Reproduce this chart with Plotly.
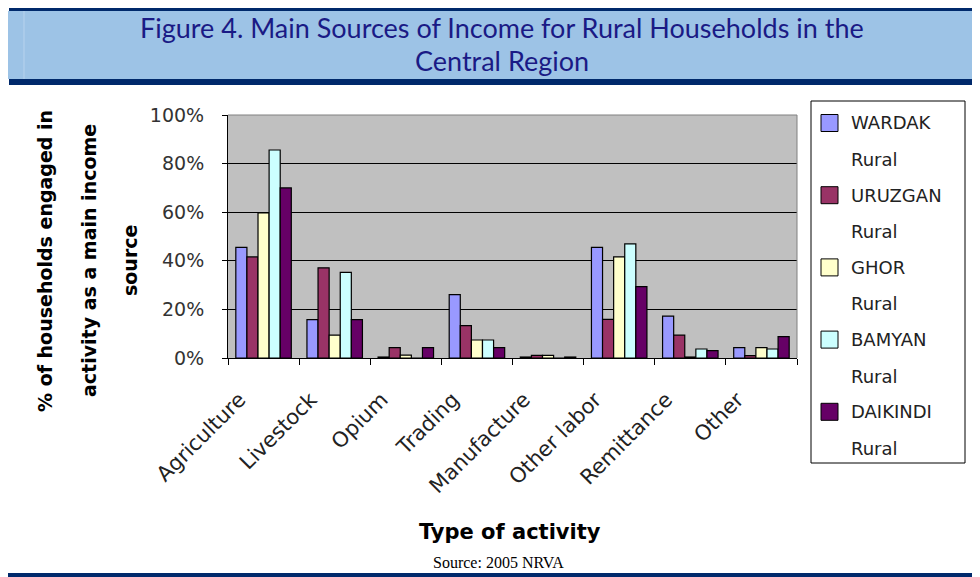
import plotly.graph_objects as go

# ---- data ----
categories = ["Agriculture", "Livestock", "Opium", "Trading", "Manufacture",
              "Other labor", "Remittance", "Other"]
series_names = ["WARDAK Rural", "URUZGAN Rural", "GHOR Rural", "BAMYAN Rural", "DAIKINDI Rural"]
wardak   = [0.455, 0.158, 0.004, 0.261, 0.004, 0.455, 0.172, 0.043]
uruzgan  = [0.416, 0.371, 0.043, 0.133, 0.011, 0.159, 0.094, 0.010]
ghor     = [0.597, 0.094, 0.012, 0.074, 0.011, 0.416, 0.004, 0.043]
bamyan   = [0.856, 0.352, 0.000, 0.074, 0.000, 0.470, 0.037, 0.037]
daikindi = [0.700, 0.158, 0.043, 0.043, 0.004, 0.294, 0.030, 0.088]
series_values = [wardak, uruzgan, ghor, bamyan, daikindi]
colors = ["#9999FF", "#993366", "#FFFFCC", "#CCFFFF", "#660066"]
y_ticks = [0, 0.2, 0.4, 0.6, 0.8, 1.0]

OFF = 8  # page body margin offset
W, H = 980 - OFF, 577 - OFF
L, R, T, B = 228 - OFF, 797 - OFF, 115 - OFF, 358 - OFF

def fx(x):
    return (x - OFF - L) / (R - L)

def fy(y):
    return (B - (y - OFF)) / (B - T)

fig = go.Figure()
for name, vals, col in zip(series_names, series_values, colors):
    fig.add_trace(go.Bar(x=categories, y=vals, name=name,
                         marker=dict(color=col, line=dict(color="black", width=1.2))))

shapes = []
annotations = []
navy = "#00296B"
# header band
shapes.append(dict(type="rect", xref="paper", yref="paper", x0=fx(7), x1=fx(990), y0=fy(79), y1=fy(11),
                   fillcolor="#9DC3E6", line=dict(width=0), layer="below"))
shapes.append(dict(type="rect", xref="paper", yref="paper", x0=fx(9), x1=fx(990), y0=fy(11), y1=fy(6),
                   fillcolor=navy, line=dict(width=0)))
shapes.append(dict(type="rect", xref="paper", yref="paper", x0=fx(9), x1=fx(990), y0=fy(85), y1=fy(79),
                   fillcolor=navy, line=dict(width=0)))
shapes.append(dict(type="line", xref="paper", yref="paper", x0=fx(24), x1=fx(24), y0=fy(79), y1=fy(11),
                   line=dict(color="#B8D3EE", width=1)))
# bottom line
shapes.append(dict(type="rect", xref="paper", yref="paper", x0=fx(8), x1=fx(990), y0=fy(578), y1=fy(573),
                   fillcolor=navy, line=dict(width=0)))
# plot area border (top / right)
shapes.append(dict(type="line", xref="paper", yref="paper", x0=0, x1=1, y0=1, y1=1,
                   line=dict(color="#808080", width=1)))
shapes.append(dict(type="line", xref="paper", yref="paper", x0=1, x1=1, y0=0, y1=1,
                   line=dict(color="#808080", width=1)))

title_font = dict(family="Lato", size=27, color="#1A1A85")
annotations.append(dict(text="Figure 4. Main Sources of Income for Rural Households in the",
                        xref="paper", yref="paper", x=fx(502), y=fy(27), showarrow=False,
                        xanchor="center", yanchor="middle", font=title_font))
annotations.append(dict(text="Central Region",
                        xref="paper", yref="paper", x=fx(502), y=fy(61), showarrow=False,
                        xanchor="center", yanchor="middle", font=title_font))

# y-axis title (three lines)
ytitle_lines = ["% of households engaged in", "activity as a main income", "source"]
for line, xc in zip(ytitle_lines, [45, 89, 130]):
    annotations.append(dict(text=line, xref="paper", yref="paper", x=fx(xc), y=fy(261),
                            showarrow=False, textangle=-90, xanchor="center", yanchor="middle",
                            font=dict(family="DejaVu Sans", size=19, color="black", weight="bold")))

# x-axis title
annotations.append(dict(text="Type of activity", xref="paper", yref="paper", x=fx(510), y=fy(532),
                        showarrow=False, xanchor="center", yanchor="middle",
                        font=dict(family="DejaVu Sans", size=21, color="black", weight="bold")))
# source
annotations.append(dict(text="Source: 2005 NRVA", xref="paper", yref="paper", x=fx(498), y=fy(562),
                        showarrow=False, xanchor="center", yanchor="middle",
                        font=dict(family="Liberation Serif", size=16, color="black")))

# manual legend
shapes.append(dict(type="rect", xref="paper", yref="paper", x0=fx(811), x1=fx(965), y0=fy(463), y1=fy(101),
                   fillcolor="white", line=dict(color="black", width=1)))
for i, (name, col) in enumerate(zip(series_names, colors)):
    yc = 123 + i * 72.2
    shapes.append(dict(type="rect", xref="paper", yref="paper", x0=fx(821), x1=fx(838),
                       y0=fy(yc + 8.5), y1=fy(yc - 8.5), fillcolor=col, line=dict(color="black", width=1)))
    first, second = name.split(" ")
    for j, txt in enumerate([first, second]):
        annotations.append(dict(text=txt, xref="paper", yref="paper", x=fx(849), y=fy(yc + j * 36.5),
                                showarrow=False, xanchor="left", yanchor="middle",
                                font=dict(family="DejaVu Sans", size=18, color="#222222")))

fig.update_layout(
    width=W, height=H,
    margin=dict(l=L, r=W - R, t=T, b=H - B, pad=0),
    paper_bgcolor="white", plot_bgcolor="#C0C0C0",
    barmode="group", bargap=0.22, bargroupgap=0,
    showlegend=False,
    shapes=shapes, annotations=annotations,
    xaxis=dict(type="category", tickson="boundaries", ticks="outside", ticklen=6, tickcolor="black",
               showline=True, linecolor="black", linewidth=1, showgrid=False,
               tickangle=-45, ticklabelshift=-24, ticklabelstandoff=20,
               tickfont=dict(family="DejaVu Sans", size=21, color="#222222")),
    yaxis=dict(range=[0, 1], tickvals=y_ticks, tickformat=".0%", ticks="outside", ticklen=5,
               tickcolor="black", showline=True, linecolor="black", linewidth=1,
               showgrid=True, gridcolor="black", gridwidth=1, zeroline=False,
               ticklabelstandoff=14,
               tickfont=dict(family="DejaVu Sans", size=19, color="#333333")),
)

fig.write_html("out.html")
